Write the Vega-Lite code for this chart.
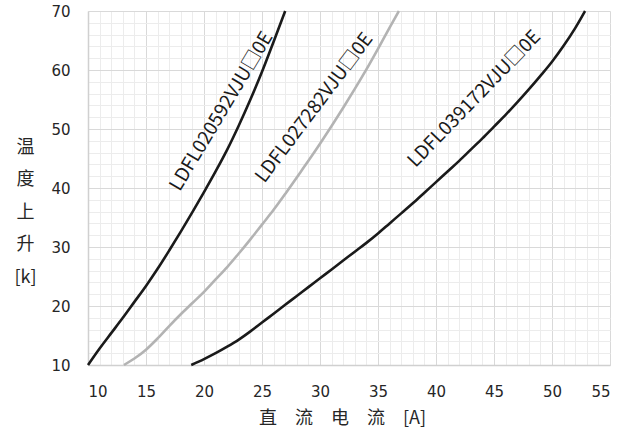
{
  "$schema": "https://vega.github.io/schema/vega-lite/v6.json",
  "width": 522,
  "height": 354,
  "autosize": {"type": "none"},
  "padding": {"left": 88, "top": 11, "right": 23, "bottom": 72},
  "background": "white",
  "config": {"view": {"stroke": null}, "font": "DejaVu Sans"},
  "datasets": {
    "curves": [
      {"model": "LDFL020592", "current": 10, "temp": 10},
      {"model": "LDFL020592", "current": 11, "temp": 12.8},
      {"model": "LDFL020592", "current": 12, "temp": 15.4},
      {"model": "LDFL020592", "current": 13, "temp": 18},
      {"model": "LDFL020592", "current": 14, "temp": 20.7},
      {"model": "LDFL020592", "current": 15, "temp": 23.4},
      {"model": "LDFL020592", "current": 16, "temp": 26.3},
      {"model": "LDFL020592", "current": 17, "temp": 29.4},
      {"model": "LDFL020592", "current": 18, "temp": 32.6},
      {"model": "LDFL020592", "current": 19, "temp": 35.9},
      {"model": "LDFL020592", "current": 20, "temp": 39.3},
      {"model": "LDFL020592", "current": 21, "temp": 42.8},
      {"model": "LDFL020592", "current": 22, "temp": 46.5},
      {"model": "LDFL020592", "current": 23, "temp": 50.6},
      {"model": "LDFL020592", "current": 24, "temp": 55},
      {"model": "LDFL020592", "current": 25, "temp": 59.7},
      {"model": "LDFL020592", "current": 26, "temp": 64.8},
      {"model": "LDFL020592", "current": 27, "temp": 70},
      {"model": "LDFL027282", "current": 13.1, "temp": 10},
      {"model": "LDFL027282", "current": 14, "temp": 11.1},
      {"model": "LDFL027282", "current": 15, "temp": 12.6},
      {"model": "LDFL027282", "current": 16, "temp": 14.5},
      {"model": "LDFL027282", "current": 17, "temp": 16.6},
      {"model": "LDFL027282", "current": 18, "temp": 18.6},
      {"model": "LDFL027282", "current": 19, "temp": 20.5},
      {"model": "LDFL027282", "current": 20, "temp": 22.4},
      {"model": "LDFL027282", "current": 21, "temp": 24.5},
      {"model": "LDFL027282", "current": 22, "temp": 26.6},
      {"model": "LDFL027282", "current": 23, "temp": 28.9},
      {"model": "LDFL027282", "current": 24, "temp": 31.3},
      {"model": "LDFL027282", "current": 25, "temp": 33.8},
      {"model": "LDFL027282", "current": 26, "temp": 36.3},
      {"model": "LDFL027282", "current": 27, "temp": 39},
      {"model": "LDFL027282", "current": 28, "temp": 41.8},
      {"model": "LDFL027282", "current": 29, "temp": 44.6},
      {"model": "LDFL027282", "current": 30, "temp": 47.5},
      {"model": "LDFL027282", "current": 31, "temp": 50.5},
      {"model": "LDFL027282", "current": 32, "temp": 53.6},
      {"model": "LDFL027282", "current": 33, "temp": 56.8},
      {"model": "LDFL027282", "current": 34, "temp": 60.1},
      {"model": "LDFL027282", "current": 35, "temp": 63.6},
      {"model": "LDFL027282", "current": 36, "temp": 67.2},
      {"model": "LDFL027282", "current": 36.8, "temp": 70},
      {"model": "LDFL039172", "current": 18.9, "temp": 10},
      {"model": "LDFL039172", "current": 20, "temp": 11},
      {"model": "LDFL039172", "current": 21, "temp": 12},
      {"model": "LDFL039172", "current": 22, "temp": 13.1},
      {"model": "LDFL039172", "current": 23, "temp": 14.3},
      {"model": "LDFL039172", "current": 24, "temp": 15.7},
      {"model": "LDFL039172", "current": 25, "temp": 17.2},
      {"model": "LDFL039172", "current": 26, "temp": 18.7},
      {"model": "LDFL039172", "current": 27, "temp": 20.2},
      {"model": "LDFL039172", "current": 28, "temp": 21.7},
      {"model": "LDFL039172", "current": 29, "temp": 23.2},
      {"model": "LDFL039172", "current": 30, "temp": 24.7},
      {"model": "LDFL039172", "current": 31, "temp": 26.2},
      {"model": "LDFL039172", "current": 32, "temp": 27.7},
      {"model": "LDFL039172", "current": 33, "temp": 29.2},
      {"model": "LDFL039172", "current": 34, "temp": 30.7},
      {"model": "LDFL039172", "current": 35, "temp": 32.3},
      {"model": "LDFL039172", "current": 36, "temp": 34},
      {"model": "LDFL039172", "current": 37, "temp": 35.7},
      {"model": "LDFL039172", "current": 38, "temp": 37.4},
      {"model": "LDFL039172", "current": 39, "temp": 39.2},
      {"model": "LDFL039172", "current": 40, "temp": 41},
      {"model": "LDFL039172", "current": 41, "temp": 42.8},
      {"model": "LDFL039172", "current": 42, "temp": 44.6},
      {"model": "LDFL039172", "current": 43, "temp": 46.5},
      {"model": "LDFL039172", "current": 44, "temp": 48.4},
      {"model": "LDFL039172", "current": 45, "temp": 50.4},
      {"model": "LDFL039172", "current": 46, "temp": 52.4},
      {"model": "LDFL039172", "current": 47, "temp": 54.5},
      {"model": "LDFL039172", "current": 48, "temp": 56.7},
      {"model": "LDFL039172", "current": 49, "temp": 59},
      {"model": "LDFL039172", "current": 50, "temp": 61.4},
      {"model": "LDFL039172", "current": 51, "temp": 64.1},
      {"model": "LDFL039172", "current": 52, "temp": 67.1},
      {"model": "LDFL039172", "current": 52.85, "temp": 70}
    ],
    "label1": [{"label": "LDFL020592VJU□0E", "current": 21.5, "temp": 53.0}],
    "label2": [{"label": "LDFL027282VJU□0E", "current": 29.5, "temp": 53.6}],
    "label3": [{"label": "LDFL039172VJU□0E", "current": 43.3, "temp": 55.1}]
  },
  "layer": [
    {
      "data": {"name": "curves"},
      "mark": {"type": "line", "interpolate": "monotone", "strokeWidth": 2.6},
      "encoding": {
        "x": {
          "field": "current", "type": "quantitative",
          "scale": {"domain": [10, 55], "nice": false, "zero": false},
          "axis": {
            "orient": "top", "title": null, "labels": false, "ticks": false, "domain": false,
            "grid": true, "gridColor": "#ececec", "gridWidth": 1,
            "values": [11,12,13,14,16,17,18,19,21,22,23,24,26,27,28,29,31,32,33,34,36,37,38,39,41,42,43,44,46,47,48,49,51,52,53,54]
          }
        },
        "y": {
          "field": "temp", "type": "quantitative",
          "scale": {"domain": [10, 70], "nice": false, "zero": false},
          "axis": {
            "orient": "right", "title": null, "labels": false, "ticks": false, "domain": false,
            "grid": true, "gridColor": "#ececec", "gridWidth": 1,
            "values": [12,14,16,18,22,24,26,28,32,34,36,38,42,44,46,48,52,54,56,58,62,64,66,68]
          }
        },
        "color": {
          "field": "model", "type": "nominal",
          "scale": {"domain": ["LDFL020592", "LDFL027282", "LDFL039172"], "range": ["#1a1a1a", "#b3b3b3", "#1a1a1a"]},
          "legend": null
        }
      }
    },
    {
      "data": {"name": "label1"},
      "mark": {"type": "text", "angle": -59, "align": "center", "baseline": "middle", "font": "Noto Sans CJK JP", "fontSize": 19, "color": "#1a1a1a"},
      "encoding": {
        "text": {"field": "label"},
        "x": {
          "field": "current", "type": "quantitative",
          "axis": {
            "orient": "bottom", "values": [10,15,20,25,30,35,40,45,50,55],
            "grid": true, "gridColor": "#d9d9d9", "gridWidth": 1,
            "ticks": false, "domain": true, "domainColor": "#d0d0d0", "domainWidth": 1.5,
            "labelFont": "DejaVu Sans", "labelFontSize": 15, "labelColor": "#262626", "labelPadding": 19,
            "title": "直　流　电　流　[A]", "titleFont": "Noto Sans CJK SC", "titleFontSize": 18,
            "titleFontWeight": "normal", "titleColor": "#262626",
            "titleX": 254, "titleY": 53, "titleAlign": "center", "titleBaseline": "middle"
          }
        },
        "y": {
          "field": "temp", "type": "quantitative",
          "axis": {
            "orient": "left", "values": [10,20,30,40,50,60,70],
            "grid": true, "gridColor": "#d9d9d9", "gridWidth": 1,
            "ticks": false, "domain": true, "domainColor": "#d0d0d0", "domainWidth": 1.5,
            "labelFont": "DejaVu Sans", "labelFontSize": 15, "labelColor": "#262626", "labelPadding": 18,
            "title": ["温", "度", "上", "升", "[k]"], "titleFont": "Noto Sans CJK SC", "titleFontSize": 18,
            "titleFontWeight": "normal", "titleColor": "#262626", "titleAngle": 0,
            "titleLineHeight": 32.5, "titleX": -63, "titleY": 136, "titleAlign": "center", "titleBaseline": "middle"
          }
        }
      }
    },
    {
      "data": {"name": "label2"},
      "mark": {"type": "text", "angle": -53, "align": "center", "baseline": "middle", "font": "Noto Sans CJK JP", "fontSize": 19, "color": "#1a1a1a"},
      "encoding": {
        "text": {"field": "label"},
        "x": {"field": "current", "type": "quantitative", "axis": null},
        "y": {"field": "temp", "type": "quantitative", "axis": null}
      }
    },
    {
      "data": {"name": "label3"},
      "mark": {"type": "text", "angle": -46, "align": "center", "baseline": "middle", "font": "Noto Sans CJK JP", "fontSize": 19, "color": "#1a1a1a"},
      "encoding": {
        "text": {"field": "label"},
        "x": {"field": "current", "type": "quantitative", "axis": null},
        "y": {"field": "temp", "type": "quantitative", "axis": null}
      }
    }
  ],
  "resolve": {"axis": {"x": "independent", "y": "independent"}}
}
